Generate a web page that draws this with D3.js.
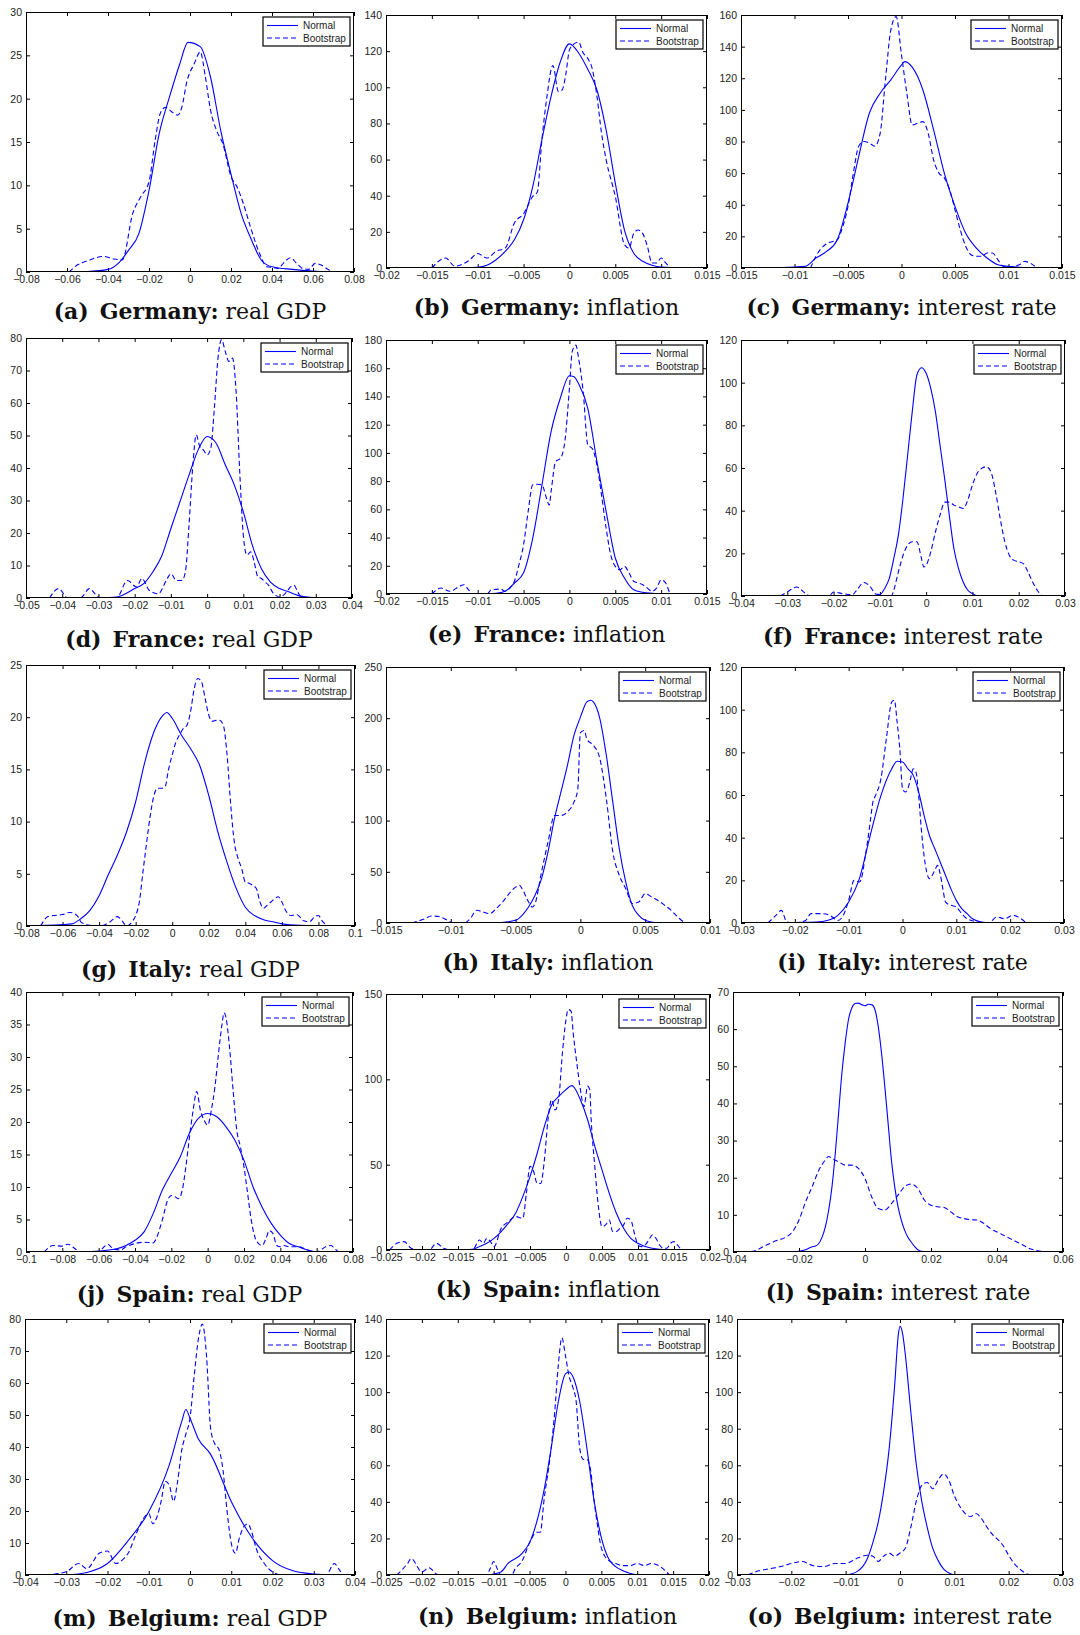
<!DOCTYPE html>
<html>
<head>
<meta charset="utf-8">
<script src="https://cdn.jsdelivr.net/npm/d3@7"></script>
<style>
  body { margin: 0; background: #fff; }
  svg { display: block; }
</style>
</head>
<body>
<svg id="chart" width="1080" height="1635"></svg>
<script>
// panel captions
const LETTERS = ["a","b","c","d","e","f","g","h","i","j","k","l","m","n","o"];
const COUNTRIES = ["Germany","Germany","Germany","France","France","France","Italy","Italy","Italy",
                   "Spain","Spain","Spain","Belgium","Belgium","Belgium"];
const VARIABLES = ["real GDP","inflation","interest rate"];

// tick values
const XT_A = [-0.08,-0.06,-0.04,-0.02,0,0.02,0.04,0.06,0.08];
const XT_B = [-0.02,-0.015,-0.01,-0.005,0,0.005,0.01,0.015];
const XT_C = [-0.015,-0.01,-0.005,0,0.005,0.01,0.015];
const XT_D = [-0.05,-0.04,-0.03,-0.02,-0.01,0,0.01,0.02,0.03,0.04];
const XT_E = [-0.02,-0.015,-0.01,-0.005,0,0.005,0.01,0.015];
const XT_F = [-0.04,-0.03,-0.02,-0.01,0,0.01,0.02,0.03];
const XT_G = [-0.08,-0.06,-0.04,-0.02,0,0.02,0.04,0.06,0.08,0.1];
const XT_H = [-0.015,-0.01,-0.005,0,0.005,0.01];
const XT_I = [-0.03,-0.02,-0.01,0,0.01,0.02,0.03];
const XT_J = [-0.1,-0.08,-0.06,-0.04,-0.02,0,0.02,0.04,0.06,0.08];
const XT_K = [-0.025,-0.02,-0.015,-0.01,-0.005,0,0.005,0.01,0.015,0.02];
const XT_L = [-0.04,-0.02,0,0.02,0.04,0.06];
const XT_M = [-0.04,-0.03,-0.02,-0.01,0,0.01,0.02,0.03,0.04];
const XT_N = [-0.025,-0.02,-0.015,-0.01,-0.005,0,0.005,0.01,0.015,0.02];
const XT_O = [-0.03,-0.02,-0.01,0,0.01,0.02,0.03];

const YT_A = [0,5,10,15,20,25,30];
const YT_B = [0,20,40,60,80,100,120,140];
const YT_C = [0,20,40,60,80,100,120,140,160];
const YT_D = [0,10,20,30,40,50,60,70,80];
const YT_E = [0,20,40,60,80,100,120,140,160,180];
const YT_F = [0,20,40,60,80,100,120];
const YT_G = [0,5,10,15,20,25];
const YT_H = [0,50,100,150,200,250];
const YT_I = [0,20,40,60,80,100,120];
const YT_J = [0,5,10,15,20,25,30,35,40];
const YT_K = [0,50,100,150];
const YT_L = [0,10,20,30,40,50,60,70];
const YT_M = [0,10,20,30,40,50,60,70,80];
const YT_N = [0,20,40,60,80,100,120,140];
const YT_O = [0,20,40,60,80,100,120,140];

// densities: [x, density]
const A_NORMAL = [[-0.06,0],[-0.05,0.05],[-0.04,0.3],[-0.035,1],[-0.03,2.5],[-0.025,4.4],[-0.02,9.4],[-0.015,16],[-0.01,20.2],[-0.005,24],[-0.001,26.5],[0.005,26],[0.01,22.5],[0.015,16.3],[0.02,11.3],[0.025,6.7],[0.03,3.7],[0.035,1.3],[0.04,0.6],[0.05,0.3],[0.06,0.1],[0.07,0]];
const A_BOOT = [[-0.059,0],[-0.055,0.8],[-0.05,1.3],[-0.042,1.8],[-0.037,1.5],[-0.033,1.4],[-0.028,6.7],[-0.024,8.7],[-0.02,10.4],[-0.017,15.2],[-0.0145,18.3],[-0.012,19],[-0.009,18.5],[-0.006,18.1],[-0.004,19],[-0.0015,22],[0.002,24],[0.005,25.4],[0.0075,22.5],[0.01,18.7],[0.013,16.3],[0.016,14.8],[0.02,11],[0.023,9.8],[0.026,7.9],[0.03,4.8],[0.034,2.1],[0.0375,0.6],[0.041,0.5],[0.043,0.4],[0.0455,1],[0.049,1.65],[0.052,1],[0.055,0.4],[0.058,0.3],[0.061,1],[0.064,0.8],[0.068,0.2],[0.07,0]];

const B_NORMAL = [[-0.014,0],[-0.012,0.2],[-0.01,0.4],[-0.009,1.5],[-0.008,4.6],[-0.007,9.2],[-0.006,15.6],[-0.005,26.7],[-0.004,45],[-0.003,71],[-0.002,95],[-0.001,114],[0,124],[0.001,119],[0.002,110],[0.003,98.5],[0.004,76.4],[0.005,47],[0.006,21],[0.007,8.3],[0.008,3.7],[0.009,1.5],[0.01,0.5],[0.013,0]];
const B_BOOT = [[-0.015,0],[-0.0135,5.5],[-0.0125,1],[-0.011,4],[-0.01,8],[-0.009,5.5],[-0.008,9.2],[-0.007,11],[-0.006,24.9],[-0.005,30],[-0.004,39.6],[-0.0035,42],[-0.003,71],[-0.0025,93],[-0.0018,112],[-0.0012,97.6],[-0.0008,98.5],[-0.0004,107],[0,120.6],[0.0005,124],[0.001,125],[0.0015,119],[0.002,116],[0.0025,110],[0.003,95],[0.0035,74.6],[0.004,60],[0.005,39.6],[0.006,13],[0.0065,11],[0.007,19],[0.0075,21],[0.008,19],[0.0085,12],[0.009,2.8],[0.0095,2.8],[0.01,5.5],[0.0105,2.8],[0.011,0]];

const C_NORMAL = [[-0.0128,0],[-0.01,0.6],[-0.009,1],[-0.008,6.3],[-0.007,10.5],[-0.006,17.9],[-0.005,41],[-0.004,70.5],[-0.003,98],[-0.002,110.5],[-0.001,119],[0,128.4],[0.0003,130.5],[0.001,127],[0.002,112.6],[0.003,87.4],[0.004,60],[0.005,39],[0.006,22],[0.007,12.6],[0.008,6.3],[0.009,2.1],[0.01,1.05],[0.011,0.5],[0.013,0]];
const C_BOOT = [[-0.0085,0],[-0.008,7.4],[-0.007,15.4],[-0.006,17.9],[-0.0055,26],[-0.005,39],[-0.0045,60],[-0.004,77],[-0.0035,80],[-0.003,79],[-0.0025,77],[-0.002,85],[-0.0015,119],[-0.001,150.5],[-0.0005,159],[0,134.7],[0.0005,110.5],[0.001,90.5],[0.0015,91.6],[0.002,92.6],[0.0025,85],[0.003,68.4],[0.0035,60],[0.004,57],[0.0045,49.5],[0.005,36.8],[0.0055,24],[0.006,13.7],[0.0065,8.4],[0.007,7.4],[0.0075,7.4],[0.008,9.5],[0.0085,9.5],[0.009,5.3],[0.0095,1],[0.01,0.6],[0.0105,1],[0.011,2],[0.0115,4.2],[0.012,3.2],[0.0125,1],[0.013,0]];

const D_NORMAL = [[-0.03,0],[-0.025,0.3],[-0.02,2.9],[-0.0175,4.4],[-0.015,8],[-0.0125,13],[-0.01,21.4],[-0.0075,29.6],[-0.005,37.8],[-0.0025,45.5],[0,49.7],[0.0025,47.6],[0.005,41],[0.0075,34.8],[0.01,26.5],[0.0125,16.2],[0.015,9],[0.0175,4.9],[0.02,2.9],[0.0225,1.9],[0.025,0.8],[0.03,0]];
const D_BOOT = [[-0.0435,0],[-0.041,2.9],[-0.0385,0],[-0.035,0],[-0.0325,2.9],[-0.03,0.3],[-0.028,0],[-0.025,0],[-0.022,5.4],[-0.0195,3.4],[-0.018,6],[-0.016,2.4],[-0.0135,1.3],[-0.011,6],[-0.01,7.5],[-0.0085,5.4],[-0.007,5.4],[-0.006,8],[-0.005,22.4],[-0.004,39.9],[-0.003,50.2],[-0.002,46.5],[-0.001,45.5],[0,44],[0.001,46],[0.002,58.4],[0.003,73.8],[0.004,79.5],[0.005,75.9],[0.006,72.8],[0.007,73.8],[0.008,63.5],[0.009,38.9],[0.01,19.3],[0.011,13.2],[0.012,14.2],[0.013,11.1],[0.014,6.5],[0.015,6],[0.016,4.9],[0.017,3.9],[0.018,1.9],[0.019,0.8],[0.02,0.3],[0.021,0.8],[0.022,1.9],[0.023,3.4],[0.024,3.9],[0.025,1.9],[0.026,0]];

const E_NORMAL = [[-0.01,0],[-0.008,0.5],[-0.007,1.9],[-0.006,7.8],[-0.005,15],[-0.004,39.6],[-0.003,77],[-0.002,115],[-0.001,138.7],[0,154.7],[0.0005,154],[0.001,149],[0.002,131.6],[0.003,93.9],[0.004,58.5],[0.005,25.5],[0.006,11.3],[0.007,3],[0.008,1.2],[0.009,0.5],[0.01,0]];
const E_BOOT = [[-0.015,0],[-0.014,4.2],[-0.013,1.9],[-0.012,5.4],[-0.0115,6.6],[-0.011,3],[-0.0105,0],[-0.009,0],[-0.0085,3],[-0.0075,3.5],[-0.007,1.9],[-0.0065,4.2],[-0.006,9],[-0.0055,20.8],[-0.005,35],[-0.0045,58.5],[-0.004,77.4],[-0.0035,77.8],[-0.003,77.4],[-0.0025,67.9],[-0.0022,63],[-0.002,72.6],[-0.0015,93.9],[-0.001,96],[-0.0005,108],[0,145.8],[0.0003,171.7],[0.0007,176.4],[0.001,167],[0.0015,143.4],[0.002,105.7],[0.0025,103],[0.003,91.5],[0.0035,70.3],[0.004,46.7],[0.0045,27.8],[0.005,19.6],[0.0055,17.2],[0.006,19.6],[0.0065,15],[0.007,9],[0.0075,7.8],[0.008,6.6],[0.0085,4.2],[0.009,1.9],[0.0095,4.2],[0.01,10],[0.0105,7.8],[0.011,0.7],[0.0115,0]];

const F_NORMAL = [[-0.013,0],[-0.01,0.6],[-0.009,3.4],[-0.008,8],[-0.007,17.5],[-0.006,28.5],[-0.005,45.7],[-0.004,66],[-0.003,86.4],[-0.002,103.6],[-0.001,107],[0,104.4],[0.001,97.3],[0.002,86.4],[0.003,70.7],[0.004,55],[0.005,37.9],[0.006,22.2],[0.007,12.8],[0.008,6.6],[0.009,2.7],[0.01,1.1],[0.011,0]];
const F_BOOT = [[-0.0315,0],[-0.03,1.9],[-0.028,4.2],[-0.026,1.1],[-0.025,0],[-0.021,0],[-0.02,1.9],[-0.018,1.1],[-0.016,0.6],[-0.015,2.7],[-0.0135,6.3],[-0.012,4.2],[-0.011,1.1],[-0.01,0.6],[-0.009,0],[-0.0075,0],[-0.007,2.7],[-0.006,11.3],[-0.005,19],[-0.004,23.8],[-0.003,25.4],[-0.002,25.4],[-0.001,17.5],[-0.0005,13.6],[0,14.4],[0.001,20.7],[0.002,30],[0.003,37.9],[0.004,44],[0.005,44],[0.006,42.6],[0.007,41.8],[0.008,41],[0.009,45],[0.01,52],[0.011,57.4],[0.012,59.8],[0.013,60.6],[0.014,58.2],[0.015,48.8],[0.016,36.3],[0.017,25.4],[0.018,19],[0.019,16.7],[0.02,16],[0.021,15.2],[0.022,11.3],[0.023,6.6],[0.024,2.7],[0.025,0]];

const G_NORMAL = [[-0.08,0],[-0.06,0.13],[-0.055,0.2],[-0.05,0.7],[-0.045,1.5],[-0.04,2.9],[-0.035,4.9],[-0.03,6.8],[-0.025,9],[-0.02,11.9],[-0.015,15.7],[-0.01,18.6],[-0.005,20.2],[-0.003,20.45],[0,19.9],[0.005,18.3],[0.01,17],[0.015,15.4],[0.02,12.5],[0.025,9],[0.03,6.1],[0.035,3.6],[0.04,1.8],[0.045,1],[0.05,0.6],[0.055,0.4],[0.06,0.2],[0.07,0.06],[0.09,0]];
const G_BOOT = [[-0.072,0],[-0.068,0.9],[-0.065,1],[-0.06,1.1],[-0.056,1.3],[-0.052,1],[-0.05,0.4],[-0.046,0.1],[-0.04,0],[-0.034,0.4],[-0.03,0.9],[-0.027,0.4],[-0.025,0],[-0.022,0.4],[-0.02,1],[-0.018,2.3],[-0.016,5.2],[-0.014,8],[-0.012,10.6],[-0.01,12.5],[-0.008,13.2],[-0.006,13.2],[-0.004,13.3],[-0.002,15],[0,16.4],[0.002,17.6],[0.004,18.3],[0.006,18.9],[0.008,19.2],[0.01,20.5],[0.012,22.7],[0.014,23.7],[0.016,23.4],[0.018,21.8],[0.02,20.2],[0.022,19.6],[0.024,19.7],[0.026,19.7],[0.028,19.2],[0.03,16.4],[0.032,11.6],[0.034,8],[0.036,6.5],[0.038,5.5],[0.04,4.2],[0.042,4.1],[0.044,3.9],[0.046,3.6],[0.048,2.3],[0.05,1.7],[0.052,2],[0.054,2.3],[0.056,2.6],[0.058,2.8],[0.06,2.3],[0.062,1.5],[0.065,1],[0.068,1.1],[0.072,0.5],[0.075,0.4],[0.078,0.9],[0.08,1],[0.082,0.5],[0.085,0]];

const H_NORMAL = [[-0.0065,0],[-0.005,2.6],[-0.0045,7.5],[-0.004,15.6],[-0.0035,27],[-0.003,43.3],[-0.0025,69.4],[-0.002,102],[-0.0015,128],[-0.001,154],[-0.0005,183],[0,201],[0.0005,216],[0.0008,217.6],[0.001,216],[0.0015,199.7],[0.002,163.8],[0.0025,118],[0.003,72.6],[0.0035,40],[0.004,17.3],[0.0045,7.5],[0.005,2.6],[0.0055,1],[0.006,0]];
const H_BOOT = [[-0.013,0],[-0.012,4.2],[-0.0115,6.8],[-0.011,6.5],[-0.0105,4.2],[-0.01,1],[-0.0095,0],[-0.009,0],[-0.0085,4.2],[-0.008,12.4],[-0.0075,10.7],[-0.007,9.1],[-0.0065,14],[-0.006,20.5],[-0.0055,28.7],[-0.005,35],[-0.0047,36.8],[-0.0045,33.5],[-0.004,20.5],[-0.0037,15.6],[-0.0035,19],[-0.003,49.8],[-0.0025,79],[-0.002,105],[-0.0015,105],[-0.001,108.5],[-0.0005,118],[-0.0002,131],[0,186],[0.0003,188],[0.0005,179.5],[0.001,173.6],[0.0015,160.6],[0.002,121.5],[0.0025,69.4],[0.003,46.6],[0.0035,33.5],[0.004,19],[0.0045,20.5],[0.005,28.7],[0.0055,25.4],[0.006,22],[0.0065,17.3],[0.007,12.4],[0.0075,6],[0.008,1],[0.0083,0]];

const I_NORMAL = [[-0.022,0],[-0.02,0.2],[-0.016,0.5],[-0.014,1.2],[-0.012,3.6],[-0.01,9.8],[-0.008,20.8],[-0.006,41],[-0.004,59.8],[-0.002,72.3],[-0.001,75.8],[0,75.5],[0.001,72.3],[0.002,69.2],[0.003,61.4],[0.004,50.5],[0.005,41],[0.006,34.8],[0.007,28.6],[0.008,22.3],[0.009,16],[0.01,10.6],[0.011,6.7],[0.012,4.4],[0.013,2],[0.014,0.9],[0.015,0.3],[0.016,0]];
const I_BOOT = [[-0.025,0],[-0.0235,3.6],[-0.0225,5.9],[-0.0215,0.5],[-0.02,0],[-0.018,1.2],[-0.017,4.4],[-0.015,4.4],[-0.0135,3.6],[-0.012,1.2],[-0.011,3.6],[-0.01,10.6],[-0.009,20],[-0.008,19.2],[-0.0075,22.3],[-0.007,30],[-0.0065,38],[-0.006,47.3],[-0.0055,56.7],[-0.005,59.8],[-0.004,67.7],[-0.003,86.4],[-0.002,103.6],[-0.0015,104.4],[-0.001,94.2],[-0.0005,81.7],[0,63],[0.0005,61.4],[0.001,63],[0.0015,67.7],[0.002,72.3],[0.0025,70.8],[0.003,59.8],[0.0035,44],[0.004,31.7],[0.0045,23.9],[0.005,20.8],[0.0055,22.3],[0.006,24.7],[0.0065,27],[0.007,23],[0.0075,16],[0.008,9.8],[0.009,8.3],[0.01,7.5],[0.011,4.4],[0.012,2],[0.014,0.5],[0.016,0],[0.0175,2.8],[0.019,2],[0.0205,3.6],[0.0215,2.8],[0.023,0]];

const J_NORMAL = [[-0.07,0],[-0.06,0.15],[-0.05,0.5],[-0.045,1],[-0.04,1.8],[-0.035,3.1],[-0.03,5.9],[-0.025,9.5],[-0.02,12.1],[-0.015,14.7],[-0.01,18.3],[-0.005,20.6],[0,21.3],[0.005,20.8],[0.01,19.3],[0.015,17.2],[0.02,14.1],[0.025,10],[0.03,6.9],[0.035,4.4],[0.04,2.6],[0.045,1.3],[0.05,0.8],[0.055,0.3],[0.06,0]];
const J_BOOT = [[-0.09,0],[-0.085,1],[-0.08,0.9],[-0.077,1.2],[-0.073,0.5],[-0.07,0],[-0.06,0],[-0.057,0.8],[-0.055,1.2],[-0.052,0.5],[-0.048,0.3],[-0.045,0.8],[-0.04,1.3],[-0.035,1.5],[-0.03,1.4],[-0.028,2.3],[-0.025,4.9],[-0.022,8],[-0.02,8.7],[-0.018,8.5],[-0.016,8.2],[-0.014,9.5],[-0.012,13.1],[-0.01,17.7],[-0.008,21.8],[-0.006,24.7],[-0.004,21.8],[-0.002,20.3],[0,19.5],[0.002,21.8],[0.004,25.4],[0.006,30.6],[0.008,35.2],[0.009,36.8],[0.01,36.2],[0.012,31.6],[0.014,24.9],[0.016,18.8],[0.018,16.2],[0.02,13.1],[0.022,9],[0.024,4.9],[0.026,2.3],[0.028,1.3],[0.03,1],[0.032,2],[0.034,3.3],[0.036,2.8],[0.038,1],[0.04,0.8],[0.042,1],[0.045,0.8],[0.05,0.8],[0.055,0.3],[0.06,0],[0.065,0.8],[0.068,1],[0.07,0.5],[0.072,0]];

const K_NORMAL = [[-0.015,0],[-0.013,0.4],[-0.012,2],[-0.011,3.9],[-0.01,6.8],[-0.009,10.8],[-0.008,15.7],[-0.007,21.5],[-0.006,31.3],[-0.005,43],[-0.004,56.7],[-0.003,72.4],[-0.002,85],[-0.001,90],[0,94],[0.0008,96.3],[0.001,95.9],[0.002,88],[0.003,76.3],[0.004,60.7],[0.005,47],[0.006,33.3],[0.007,21.5],[0.008,12.7],[0.009,6.8],[0.01,3.9],[0.011,2],[0.012,1],[0.013,0.4],[0.0145,0]];
const K_BOOT = [[-0.0245,0],[-0.0235,3.9],[-0.0225,4.9],[-0.0215,1],[-0.0205,0],[-0.019,0],[-0.018,3.9],[-0.017,1],[-0.016,0],[-0.013,0],[-0.012,5.9],[-0.0115,3.9],[-0.011,6.8],[-0.0105,4.9],[-0.01,2],[-0.009,12.7],[-0.008,16.6],[-0.007,19.6],[-0.006,18.6],[-0.0055,33.3],[-0.005,49],[-0.0045,46],[-0.004,39],[-0.0035,39],[-0.003,52.8],[-0.0025,76.3],[-0.002,88],[-0.0015,82],[-0.001,89],[-0.0005,115.4],[0,135],[0.0003,140.9],[0.0007,140],[0.001,127.2],[0.0015,109.6],[0.002,94],[0.0025,84],[0.003,96],[0.0033,94],[0.0035,76.3],[0.004,49],[0.0045,25.4],[0.005,13.7],[0.0055,14.7],[0.006,17.6],[0.0065,10.8],[0.007,10.8],[0.0075,12.7],[0.008,14.7],[0.0085,18.6],[0.009,17.6],[0.0095,9.8],[0.01,2.9],[0.0105,2],[0.011,2.9],[0.0115,5.9],[0.012,8.8],[0.0125,6.8],[0.013,2.9],[0.0135,1],[0.014,1],[0.0145,3.9],[0.015,4.9],[0.0155,2.9],[0.016,0]];

const L_NORMAL = [[-0.022,0],[-0.02,0.2],[-0.018,0.6],[-0.016,1.4],[-0.015,1.6],[-0.014,2.3],[-0.013,4],[-0.012,6.8],[-0.011,11.3],[-0.01,17.6],[-0.009,26.6],[-0.008,37.4],[-0.007,48.2],[-0.006,56.3],[-0.005,62.6],[-0.004,65.7],[-0.003,66.9],[-0.002,67],[-0.001,66.6],[0,66.3],[0.001,66.7],[0.002,66.6],[0.003,65.3],[0.004,60.8],[0.005,53.6],[0.006,44.6],[0.007,34.7],[0.008,24.8],[0.009,17.6],[0.01,12.2],[0.011,8.6],[0.012,5.9],[0.013,4],[0.014,2.7],[0.015,1.5],[0.016,0.6],[0.017,0.2],[0.022,0]];
const L_BOOT = [[-0.037,0],[-0.034,0.2],[-0.03,1.8],[-0.027,3],[-0.024,4],[-0.022,5.4],[-0.02,8.6],[-0.018,13.5],[-0.016,17.6],[-0.014,22],[-0.012,24.8],[-0.011,25.7],[-0.01,25.2],[-0.008,24.3],[-0.006,23.4],[-0.004,23.4],[-0.002,22.5],[0,19.8],[0.002,14.9],[0.004,11.7],[0.006,11.3],[0.008,13],[0.01,15.3],[0.012,17.6],[0.014,18.3],[0.016,17.1],[0.018,14],[0.02,12.6],[0.022,12.2],[0.024,12],[0.026,10.8],[0.028,9.5],[0.03,9],[0.032,8.7],[0.034,8.6],[0.036,7.7],[0.038,6.3],[0.04,5.4],[0.042,4.5],[0.044,3.6],[0.046,2.7],[0.048,1.8],[0.05,0.9],[0.052,0.4],[0.055,0]];

const M_NORMAL = [[-0.03,0],[-0.025,0.8],[-0.02,3.6],[-0.015,10.7],[-0.01,19.8],[-0.005,34.5],[-0.002,48],[-0.001,51.7],[0,49],[0.002,42.6],[0.005,37.7],[0.01,23],[0.015,11.7],[0.02,4.5],[0.025,1.3],[0.03,0.3],[0.035,0]];
const M_BOOT = [[-0.035,0],[-0.03,1],[-0.027,3.6],[-0.025,2],[-0.022,6.8],[-0.02,7.5],[-0.018,3.6],[-0.016,5.2],[-0.015,6.8],[-0.013,13],[-0.011,18.2],[-0.01,19.2],[-0.009,16],[-0.008,18.2],[-0.007,23],[-0.006,29.3],[-0.005,28],[-0.004,23],[-0.003,29.3],[-0.002,39],[-0.001,44],[0,49],[0.001,62],[0.002,73.5],[0.003,78.4],[0.004,68.6],[0.005,45.8],[0.006,41],[0.007,39.3],[0.008,32.8],[0.009,19.8],[0.01,10],[0.011,6.8],[0.012,11.7],[0.013,15],[0.014,16],[0.015,13.3],[0.016,8.5],[0.018,3.6],[0.02,1],[0.022,0],[0.033,0],[0.035,3.6],[0.036,2],[0.037,0]];

const N_NORMAL = [[-0.011,0],[-0.009,1.7],[-0.008,6.3],[-0.006,12],[-0.005,17.7],[-0.004,29],[-0.003,46],[-0.002,69],[-0.001,94.6],[0,110],[0.0005,111],[0.001,108.8],[0.002,94.6],[0.003,69],[0.004,40.4],[0.005,20.5],[0.006,9],[0.007,4.6],[0.008,2.3],[0.01,0]];
const N_BOOT = [[-0.0235,0],[-0.022,6.3],[-0.0215,9],[-0.02,1.7],[-0.019,4],[-0.018,0.6],[-0.0175,0],[-0.011,0],[-0.0105,3.4],[-0.01,7.4],[-0.0095,3.4],[-0.009,0],[-0.0075,0],[-0.007,3.4],[-0.006,8],[-0.005,17.7],[-0.004,23.4],[-0.0035,23.4],[-0.003,40.4],[-0.002,69],[-0.0015,88.9],[-0.001,114.5],[-0.0005,129.7],[0,120],[0.0005,108.8],[0.001,103],[0.0015,94.6],[0.002,69],[0.0025,63.2],[0.003,63.2],[0.0035,57.5],[0.004,40.4],[0.0045,26.2],[0.005,14.8],[0.006,8],[0.007,6.3],[0.008,5.1],[0.009,5.1],[0.01,6.3],[0.011,5.1],[0.012,6.3],[0.013,5.1],[0.0145,0]];

const O_NORMAL = [[-0.01,0],[-0.008,1.7],[-0.006,9],[-0.005,17.7],[-0.004,29],[-0.003,46],[-0.002,69],[-0.001,103],[-0.0003,131.6],[0,136],[0.0005,131.6],[0.001,120],[0.002,88.9],[0.003,60.4],[0.004,40.4],[0.005,26.2],[0.006,14.8],[0.007,8],[0.008,3.4],[0.009,1.1],[0.01,0]];
const O_BOOT = [[-0.028,0],[-0.026,2.3],[-0.024,3.4],[-0.022,4.6],[-0.02,6.3],[-0.018,7.4],[-0.016,5.1],[-0.014,4.6],[-0.012,6.3],[-0.01,6.3],[-0.008,9],[-0.006,10.8],[-0.005,10.3],[-0.004,7.4],[-0.003,10.3],[-0.002,12],[-0.001,10.3],[0,12],[0.001,14.8],[0.002,26.2],[0.003,40.4],[0.004,49],[0.005,50.6],[0.006,47.2],[0.007,51.8],[0.008,55.3],[0.009,51.8],[0.01,43.3],[0.011,37.6],[0.012,33.6],[0.013,32],[0.014,33.6],[0.015,30.8],[0.016,26.2],[0.017,22.2],[0.018,19.4],[0.019,16],[0.02,10.8],[0.021,6.3],[0.022,3.4],[0.023,1.1],[0.024,0]];

// layout: plot frame [left, top, right, bottom] and caption centre y for each panel
const FRAMES = [
  [26, 12, 354, 272], [386, 15, 707, 268], [741, 15, 1062, 268],
  [26, 338, 352, 598], [386, 340, 707, 594], [741, 340, 1065, 596],
  [26, 665, 355, 926], [386, 667, 710, 923], [741, 667, 1064, 923],
  [26, 992, 353, 1252], [386, 994, 710, 1250], [733, 992, 1063, 1252],
  [25, 1319, 355, 1575], [386, 1319, 709, 1575], [737, 1319, 1063, 1575]
];
const CAPTION_Y = [312, 308, 308, 640, 635, 637, 970, 963, 963, 1295, 1290, 1293, 1619, 1617, 1617];

const X_TICKS = [XT_A, XT_B, XT_C, XT_D, XT_E, XT_F, XT_G, XT_H, XT_I, XT_J, XT_K, XT_L, XT_M, XT_N, XT_O];
const Y_TICKS = [YT_A, YT_B, YT_C, YT_D, YT_E, YT_F, YT_G, YT_H, YT_I, YT_J, YT_K, YT_L, YT_M, YT_N, YT_O];
const NORMALS = [A_NORMAL, B_NORMAL, C_NORMAL, D_NORMAL, E_NORMAL, F_NORMAL, G_NORMAL, H_NORMAL, I_NORMAL, J_NORMAL, K_NORMAL, L_NORMAL, M_NORMAL, N_NORMAL, O_NORMAL];
const BOOTS = [A_BOOT, B_BOOT, C_BOOT, D_BOOT, E_BOOT, F_BOOT, G_BOOT, H_BOOT, I_BOOT, J_BOOT, K_BOOT, L_BOOT, M_BOOT, N_BOOT, O_BOOT];

const BLUE = "#0000ff";
const TICK_FONT = "'Liberation Sans', Arial, sans-serif";
const fmt = v => v === 0 ? "0" : String(v).replace("-", "\u2212");

const svg = d3.select("#chart");

LETTERS.forEach((letter, i) => {
  const [L, T, R, B] = FRAMES[i];
  const xt = X_TICKS[i], yt = Y_TICKS[i];
  const x = d3.scaleLinear().domain([xt[0], xt[xt.length - 1]]).range([L, R]);
  const y = d3.scaleLinear().domain([yt[0], yt[yt.length - 1]]).range([B, T]);
  const g = svg.append("g");

  g.append("clipPath").attr("id", "clip" + i)
    .append("rect").attr("x", L).attr("y", T).attr("width", R - L).attr("height", B - T);

  // axes with inward ticks on all four sides
  const styleAxis = sel => {
    sel.select(".domain").remove();
    sel.selectAll("line").attr("stroke", "#000");
    sel.selectAll("text").attr("font-family", TICK_FONT).attr("font-size", 10.5).attr("fill", "#222");
  };
  g.append("g").attr("transform", `translate(0,${B})`)
    .call(d3.axisBottom(x).tickValues(xt).tickFormat(fmt).tickSizeInner(-4).tickSizeOuter(0).tickPadding(4))
    .call(styleAxis);
  g.append("g").attr("transform", `translate(0,${T})`)
    .call(d3.axisTop(x).tickValues(xt).tickFormat("").tickSizeInner(-4).tickSizeOuter(0))
    .call(styleAxis);
  g.append("g").attr("transform", `translate(${L},0)`)
    .call(d3.axisLeft(y).tickValues(yt).tickFormat(fmt).tickSizeInner(-4).tickSizeOuter(0).tickPadding(4))
    .call(styleAxis);
  g.append("g").attr("transform", `translate(${R},0)`)
    .call(d3.axisRight(y).tickValues(yt).tickFormat("").tickSizeInner(-4).tickSizeOuter(0))
    .call(styleAxis);

  const line = d3.line().x(d => x(d[0])).y(d => y(d[1])).curve(d3.curveMonotoneX);
  const plot = g.append("g").attr("clip-path", `url(#clip${i})`);
  plot.append("path").attr("d", line(BOOTS[i]))
    .attr("fill", "none").attr("stroke", BLUE).attr("stroke-width", 1.1).attr("stroke-dasharray", "5,3");
  plot.append("path").attr("d", line(NORMALS[i]))
    .attr("fill", "none").attr("stroke", BLUE).attr("stroke-width", 1.1);

  g.append("rect").attr("x", L + 0.5).attr("y", T + 0.5).attr("width", R - L - 1).attr("height", B - T - 1)
    .attr("fill", "none").attr("stroke", "#000").attr("stroke-width", 1);

  // legend
  const lw = 87, lh = 29, lx = R - 4 - lw, ly = T + 5;
  const leg = g.append("g").attr("transform", `translate(${lx},${ly})`);
  leg.append("rect").attr("width", lw).attr("height", lh)
    .attr("fill", "#fff").attr("stroke", "#000").attr("stroke-width", 1.2);
  [["Normal", null, 8.5], ["Bootstrap", "5,3", 21]].forEach(([label, dash, yy]) => {
    leg.append("line").attr("x1", 4).attr("x2", 35).attr("y1", yy).attr("y2", yy)
      .attr("stroke", BLUE).attr("stroke-width", 1.1).attr("stroke-dasharray", dash);
    leg.append("text").attr("x", 40).attr("y", yy).attr("dy", "0.35em")
      .attr("font-family", TICK_FONT).attr("font-size", 10).attr("fill", "#222").text(label);
  });

  // caption
  const cap = svg.append("text").attr("x", (L + R) / 2).attr("y", CAPTION_Y[i] + 7)
    .attr("text-anchor", "middle").attr("font-family", "'DejaVu Serif', serif")
    .attr("font-size", 22).attr("fill", "#111");
  cap.append("tspan").attr("font-weight", "bold").text(`(${letter})\u2002${COUNTRIES[i]}:`);
  cap.append("tspan").text(" " + VARIABLES[i % 3]);
});
</script>
</body>
</html>
